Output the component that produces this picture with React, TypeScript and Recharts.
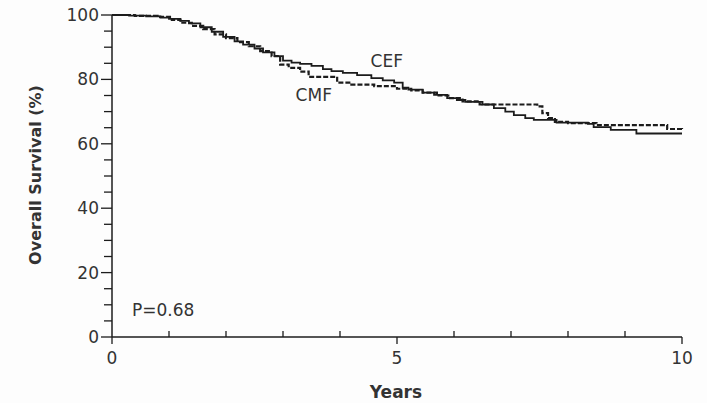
import { LineChart, Line, XAxis, YAxis, ReferenceDot } from 'recharts';

// Kaplan-Meier steps (years, overall survival %)
const CEF_YEARS = [0, 0.3, 0.6, 0.85, 1.0, 1.2, 1.35, 1.55, 1.75, 1.95, 2.15, 2.3, 2.5, 2.65, 2.85, 3.0, 3.15, 3.3, 3.5, 3.7, 3.85, 4.05, 4.3, 4.55, 4.75, 4.95, 5.1, 5.2, 5.45, 5.65, 5.88, 6.05, 6.2, 6.5, 6.7, 6.9, 7.05, 7.25, 7.4, 7.8, 8.35, 8.45, 8.75, 9.2, 10];
const CEF_SURV = [100, 99.8, 99.6, 99.2, 98.8, 98.2, 97.4, 96.2, 94.8, 93.2, 91.8, 90.8, 89.6, 88.4, 87.2, 85.8, 85.2, 84.8, 84.2, 83.2, 82.6, 82.0, 81.3, 80.4, 79.7, 79.0, 77.4, 76.8, 75.9, 75.2, 74.2, 73.6, 73.0, 72.2, 71.1, 70.0, 68.9, 68.0, 67.4, 66.6, 66.2, 65.2, 64.3, 63.2, 63.2];

const CMF_YEARS = [0, 0.4, 0.8, 1.05, 1.2, 1.4, 1.6, 1.8, 2.0, 2.2, 2.4, 2.6, 2.8, 2.95, 3.1, 3.3, 3.45, 3.95, 4.2, 4.6, 5.0, 5.25, 5.45, 5.7, 5.9, 6.15, 6.45, 7.46, 7.55, 7.65, 7.77, 8.0, 8.5, 9.74, 10];
const CMF_SURV = [100, 99.7, 99.4, 98.5, 97.6, 96.6, 95.6, 94.0, 92.8, 91.6, 90.3, 88.8, 87.2, 84.6, 83.6, 82.4, 80.8, 79.0, 78.4, 77.9, 77.1, 76.6, 75.9, 75.0, 74.2, 73.2, 72.2, 71.6, 69.5, 68.0, 66.8, 66.4, 65.8, 64.6, 64.5];

const X_TICKS = [0, 1, 2, 3, 4, 5, 6, 7, 8, 9, 10];
const Y_TICKS = [0, 5, 10, 15, 20, 25, 30, 35, 40, 45, 50, 55, 60, 65, 70, 75, 80, 85, 90, 95, 100];

const cefData = CEF_YEARS.map((t, i) => ({ t, s: CEF_SURV[i] }));
const cmfData = CMF_YEARS.map((t, i) => ({ t, s: CMF_SURV[i] }));

const INK = '#1c1c1c';
const TXT = '#333';
const FONT = '"DejaVu Sans", sans-serif';

const XTick = ({ x, y, payload }: any) => {
  const v = payload.value;
  const major = v % 5 === 0;
  return (
    <g>
      {major ? (
        <line x1={x} x2={x} y1={y} y2={y + 7} stroke={INK} strokeWidth={1.3} />
      ) : (
        <line x1={x} x2={x} y1={y} y2={y - 6} stroke={INK} strokeWidth={1.3} />
      )}
      {major && (
        <text x={x} y={y + 27} textAnchor="middle" fontSize={17} fill={TXT} fontFamily={FONT}>
          {v}
        </text>
      )}
    </g>
  );
};

const YTick = ({ x, y, payload }: any) => {
  const v = payload.value;
  const major = v % 20 === 0;
  return (
    <g>
      <line x1={x - (major ? 11 : 8)} x2={x} y1={y} y2={y} stroke={INK} strokeWidth={1.3} />
      {major && (
        <text x={x - 13} y={y + 6} textAnchor="end" fontSize={17} fill={TXT} fontFamily={FONT}>
          {v}
        </text>
      )}
    </g>
  );
};

const note = (txt: string, anchor: string) => (p: any) => (
  <text x={p.cx} y={p.cy} textAnchor={anchor} dominantBaseline="middle" fontSize={17} fill={TXT} fontFamily={FONT}>
    {txt}
  </text>
);

export default function App() {
  return (
    <div style={{ position: 'absolute', left: 0, top: 0, width: 707, height: 403, background: '#fdfdfd' }}>
      <LineChart width={707} height={403} margin={{ top: 15, right: 25, bottom: 36, left: 52 }}>
        <XAxis
          type="number"
          dataKey="t"
          domain={[0, 10]}
          ticks={X_TICKS}
          interval={0}
          tickSize={0}
          tickMargin={0}
          height={30}
          tick={<XTick />}
          axisLine={{ stroke: INK, strokeWidth: 1.5 }}
          allowDuplicatedCategory={false}
          label={{
            content: () => (
              <text x={396} y={398} textAnchor="middle" fontSize={17} fontWeight="bold" fill={TXT} fontFamily={FONT}>
                Years
              </text>
            ),
          }}
        />
        <YAxis
          type="number"
          domain={[0, 100]}
          ticks={Y_TICKS}
          interval={0}
          tickSize={0}
          tickMargin={0}
          width={60}
          tick={<YTick />}
          axisLine={{ stroke: INK, strokeWidth: 1.5 }}
          label={{
            content: () => (
              <text transform="translate(41,175) rotate(-90)" textAnchor="middle" fontSize={16} fontWeight="bold" fill={TXT} fontFamily={FONT}>
                Overall Survival (%)
              </text>
            ),
          }}
        />
        <Line data={cefData} dataKey="s" type="stepAfter" stroke={INK} strokeWidth={1.8} dot={false} isAnimationActive={false} />
        <Line data={cmfData} dataKey="s" type="stepAfter" stroke={INK} strokeWidth={2.2} strokeDasharray="5 2" dot={false} isAnimationActive={false} />
        <ReferenceDot x={4.82} y={85.4} r={0} shape={note('CEF', 'middle')} />
        <ReferenceDot x={3.54} y={75} r={0} shape={note('CMF', 'middle')} />
        <ReferenceDot x={0.35} y={8} r={0} shape={note('P=0.68', 'start')} />
      </LineChart>
    </div>
  );
}
